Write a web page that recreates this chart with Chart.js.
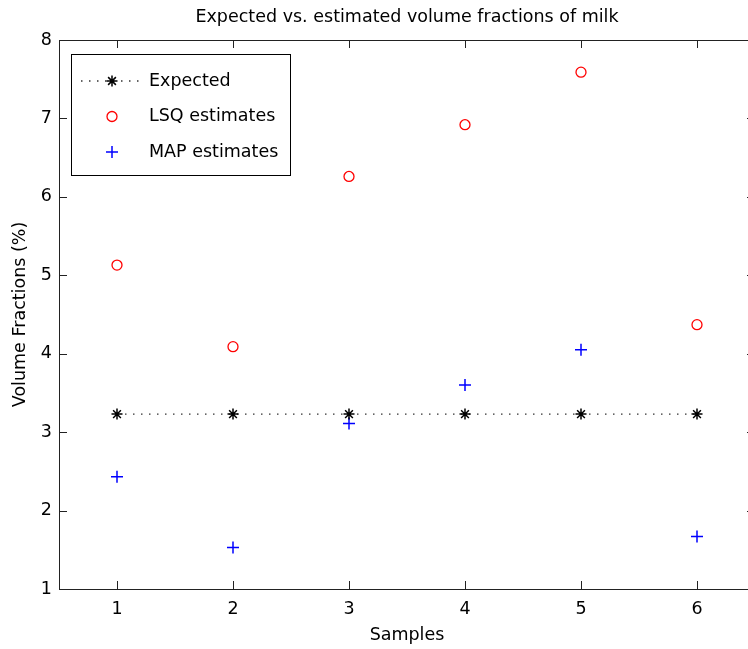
<!DOCTYPE html>
<html>
<head>
<meta charset="utf-8">
<title>Expected vs. estimated volume fractions of milk</title>
<script src="https://cdn.jsdelivr.net/npm/chart.js@4/dist/chart.umd.min.js"></script>
<style>
    html, body { margin: 0; padding: 0; background: #fff; overflow: hidden; }
    #wrap { width: 748px; height: 649px; overflow: hidden; }
</style>
</head>
<body>
<div id="wrap"><canvas id="chart" width="760" height="649"></canvas></div>
<script>
// data
const samples = [1, 2, 3, 4, 5, 6];
const expected = [3.23, 3.23, 3.23, 3.23, 3.23, 3.23];
const lsqEstimates = [5.13, 4.09, 6.26, 6.92, 7.59, 4.37];
const mapEstimates = [2.43, 1.53, 3.11, 3.60, 4.05, 1.67];
const xTicks = [1, 2, 3, 4, 5, 6];
const yTicks = [1, 2, 3, 4, 5, 6, 7, 8];
const seriesNames = ['Expected', 'LSQ estimates', 'MAP estimates'];

const FONT = { family: 'DejaVu Sans', size: 17.5 };
const AXIS_COLOR = '#222';

function toPoints(values) {
    return samples.map((x, i) => ({ x: x, y: values[i] }));
}

// box around the axes with inward ticks, like the original plot
const axesBox = {
    id: 'axesBox',
    beforeDatasetsDraw(chart) {
        const { ctx, chartArea: a, scales } = chart;
        const len = 8;
        ctx.save();
        ctx.strokeStyle = AXIS_COLOR;
        ctx.lineWidth = 1;
        ctx.strokeRect(Math.round(a.left) + 0.5, Math.round(a.top) + 0.5,
            Math.round(a.right - a.left), Math.round(a.bottom - a.top));
        ctx.beginPath();
        xTicks.forEach(v => {
            const px = Math.round(scales.x.getPixelForValue(v)) + 0.5;
            ctx.moveTo(px, a.bottom); ctx.lineTo(px, a.bottom - len);
            ctx.moveTo(px, a.top); ctx.lineTo(px, a.top + len);
        });
        yTicks.forEach(v => {
            const py = Math.round(scales.y.getPixelForValue(v)) + 0.5;
            ctx.moveTo(a.left, py); ctx.lineTo(a.left + len, py);
            ctx.moveTo(a.right, py); ctx.lineTo(a.right - len, py);
        });
        ctx.stroke();
        ctx.restore();
    }
};

// legend drawn by hand so the dotted line + marker sample looks right
const boxLegend = {
    id: 'boxLegend',
    afterDatasetsDraw(chart) {
        const { ctx, chartArea: a } = chart;
        const left = a.left + 12, top = a.top + 14, w = 219, h = 121;
        ctx.save();
        ctx.fillStyle = '#fff';
        ctx.fillRect(left, top, w, h);
        ctx.strokeStyle = '#000';
        ctx.lineWidth = 1;
        ctx.strokeRect(Math.round(left) + 0.5, Math.round(top) + 0.5, w, h);

        chart.data.datasets.forEach((ds, i) => {
            const cy = top + 27 + i * 35.5;
            const cx = left + 41;
            if (ds.showLine) {
                ctx.save();
                ctx.strokeStyle = ds.borderColor;
                ctx.lineWidth = ds.borderWidth;
                ctx.setLineDash(ds.borderDash);
                ctx.beginPath();
                ctx.moveTo(left + 10, cy);
                ctx.lineTo(left + 68, cy);
                ctx.stroke();
                ctx.restore();
            }
            ctx.strokeStyle = ds.pointBorderColor;
            ctx.fillStyle = ds.pointBackgroundColor;
            ctx.lineWidth = ds.pointBorderWidth;
            Chart.helpers.drawPoint(ctx, {
                pointStyle: ds.pointStyle,
                radius: ds.pointRadius,
                borderWidth: ds.pointBorderWidth,
                rotation: 0
            }, cx, cy);

            ctx.fillStyle = '#000';
            ctx.font = FONT.size + 'px ' + FONT.family;
            ctx.textBaseline = 'middle';
            ctx.fillText(ds.label, left + 78, cy);
        });
        ctx.restore();
    }
};

const ctx = document.getElementById('chart');

new Chart(ctx, {
    type: 'scatter',
    data: {
        datasets: [{
            label: seriesNames[0],
            data: toPoints(expected),
            showLine: true,
            borderColor: '#333',
            borderWidth: 1.3,
            borderDash: [1.5, 6.5],
            pointStyle: 'star',
            pointRadius: 5.5,
            pointBorderColor: '#000',
            pointBackgroundColor: '#000',
            pointBorderWidth: 1.5
        }, {
            label: seriesNames[1],
            data: toPoints(lsqEstimates),
            showLine: false,
            pointStyle: 'circle',
            pointRadius: 5,
            pointBorderColor: '#ff0000',
            pointBackgroundColor: 'rgba(0,0,0,0)',
            pointBorderWidth: 1.3
        }, {
            label: seriesNames[2],
            data: toPoints(mapEstimates),
            showLine: false,
            pointStyle: 'cross',
            pointRadius: 6,
            pointBorderColor: '#0000ff',
            pointBackgroundColor: '#0000ff',
            pointBorderWidth: 1.5
        }]
    },
    options: {
        responsive: false,
        animation: false,
        events: [],
        // canvas is a bit wider than the window: the right edge of the box is cut off, as in the original
        layout: { autoPadding: false, padding: { left: 0, right: 5, top: 0, bottom: 0 } },
        plugins: {
            legend: { display: false },
            tooltip: { enabled: false },
            title: {
                display: true,
                fullSize: false, // centre the title over the plot box
                text: 'Expected vs. estimated volume fractions of milk',
                color: '#000',
                font: { family: FONT.family, size: FONT.size, weight: 'normal' },
                padding: { top: 7, bottom: 12 }
            }
        },
        scales: {
            x: {
                type: 'linear',
                min: 0.5,
                max: 6.5,
                afterBuildTicks: s => { s.ticks = xTicks.map(v => ({ value: v })); },
                afterFit: s => { s.height = 60; s.paddingLeft = 0; s.paddingRight = 0; },
                grid: { display: false, drawTicks: false },
                border: { display: false },
                ticks: { color: '#000', font: FONT, padding: 10, maxRotation: 0 },
                title: {
                    display: true,
                    text: 'Samples',
                    color: '#000',
                    font: FONT,
                    padding: { top: 0, bottom: 3 }
                }
            },
            y: {
                type: 'linear',
                min: 1,
                max: 8,
                afterBuildTicks: s => { s.ticks = yTicks.map(v => ({ value: v })); },
                afterFit: s => { s.width = 59; },
                grid: { display: false, drawTicks: false },
                border: { display: false },
                ticks: { color: '#000', font: FONT, padding: 7 },
                title: {
                    display: true,
                    text: 'Volume Fractions (%)',
                    color: '#000',
                    font: FONT,
                    padding: { top: 10, bottom: 0 }
                }
            }
        }
    },
    plugins: [axesBox, boxLegend]
});
</script>
</body>
</html>
